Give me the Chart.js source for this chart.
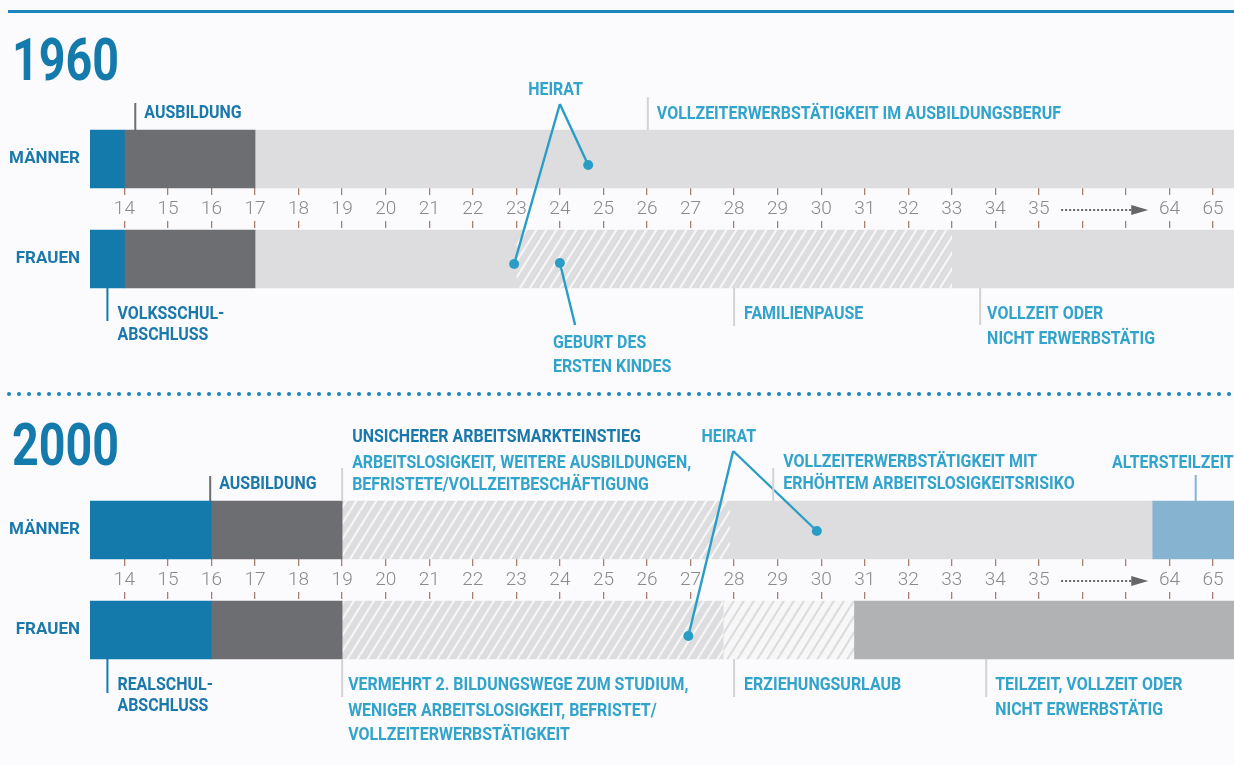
<!DOCTYPE html>
<html lang="de">
<head>
<meta charset="UTF-8">
<title>Lebensläufe 1960 und 2000</title>
<script src="https://cdn.jsdelivr.net/npm/chart.js"></script>
<style>
  html, body { margin: 0; padding: 0; background: #fbfbfd; }
  .panel { position: absolute; left: 0; width: 1234px; }
  #p1960 { top: 0; height: 383px; }
  #p2000 { top: 383px; height: 382px; }
</style>
</head>
<body>
<div class="panel" id="p1960"><canvas id="chart1960"></canvas></div>
<div class="panel" id="p2000"><canvas id="chart2000"></canvas></div>
<script>
// Zeitachse: Alter 14-35, danach Pfeil, 64 und 65 stehen auf Position 38 und 39
var agePositions = [14, 15, 16, 17, 18, 19, 20, 21, 22, 23, 24, 25, 26, 27, 28, 29, 30, 31, 32, 33, 34, 35, 36, 37, 38, 39];
var ageLabels = ['14', '15', '16', '17', '18', '19', '20', '21', '22', '23', '24', '25', '26', '27', '28', '29', '30', '31', '32', '33', '34', '35', '', '', '64', '65'];
var rowLabels = ['MÄNNER', '', 'FRAUEN'];
var axisMin = 13.21, axisMax = 39.48;

// Lebensphasen: Grenzen in Jahren und Phase je Abschnitt
var men1960Bounds = [13.2, 14, 17, 39.5];
var men1960Phases = ['schule', 'ausbildung', 'vollzeit'];
var women1960Bounds = [13.2, 14, 17, 23, 33, 39.5];
var women1960Phases = ['schule', 'ausbildung', 'vollzeit', 'familienpause', 'vollzeit'];

var men2000Bounds = [13.2, 16, 19, 27.9, 37.6, 39.5];
var men2000Phases = ['schule', 'ausbildung', 'einstieg', 'vollzeit', 'altersteilzeit'];
var women2000Bounds = [13.2, 16, 19, 27.75, 30.75, 39.5];
var women2000Phases = ['schule', 'ausbildung', 'einstieg', 'erziehungsurlaub', 'teilzeit'];

// Ereignisse (Alter): Heirat Männer / Frauen, Geburt des ersten Kindes
var heirat1960 = [24.65, 22.95];
var geburt1960 = [24.0];
var heirat2000 = [29.9, 26.95];

var BLUE = '#1479ab';
var TXT_DARK = '#1b78ab';
var TXT_LIGHT = '#32a3cb';
var LEADER = '#2a9dc5';
var LINE_GRAY = '#d3d3d5';
var TICK_FONT = "'Liberation Sans Narrow', Roboto, sans-serif";

function hatch(ctx, bg, fg) {
  var c = document.createElement('canvas');
  c.width = 10; c.height = 16;
  var g = c.getContext('2d');
  g.fillStyle = bg;
  g.fillRect(0, 0, 10, 16);
  g.strokeStyle = fg;
  g.lineWidth = 2.2;
  for (var k = -1; k <= 1; k++) {
    g.beginPath();
    g.moveTo(k * 10, 16);
    g.lineTo(k * 10 + 10, 0);
    g.stroke();
  }
  return ctx.createPattern(c, 'repeat');
}

function phaseColors(ctx) {
  return {
    schule: BLUE,
    ausbildung: '#6d6e71',
    vollzeit: '#dddddf',
    familienpause: hatch(ctx, '#dddddf', '#f6f6f7'),
    einstieg: hatch(ctx, '#dddddf', '#f6f6f7'),
    erziehungsurlaub: hatch(ctx, '#f7f7f8', '#dcdcde'),
    altersteilzeit: '#86b3cf',
    teilzeit: '#b1b2b4'
  };
}

function phaseDatasets(bounds, phases, rowIndex, colors) {
  var out = [];
  for (var i = 0; i < phases.length; i++) {
    var data = [null, null, null];
    data[rowIndex] = [bounds[i], bounds[i + 1]];
    out.push({
      type: 'bar',
      indexAxis: 'y',
      data: data,
      backgroundColor: colors[phases[i]],
      borderWidth: 0,
      barThickness: 58,
      grouped: false,
      clip: { left: 0, right: 0, top: 10, bottom: 10 },
      xAxisID: 'x',
      yAxisID: 'y'
    });
  }
  return out;
}

// Punkte fuer Heirat / Geburt, y auf einer unsichtbaren Zeilenskala
function eventDataset(points) {
  return {
    type: 'scatter',
    indexAxis: 'x',
    data: points,
    xAxisID: 'x',
    yAxisID: 'yDots',
    order: -1,
    clip: false,
    pointRadius: 5,
    pointHoverRadius: 5,
    pointBackgroundColor: LEADER,
    pointBorderWidth: 0
  };
}

function label(ctx, text, x, y, color, opts) {
  opts = opts || {};
  ctx.save();
  ctx.font = opts.font || 'bold 19px Roboto, sans-serif';
  ctx.fillStyle = color;
  ctx.textBaseline = 'alphabetic';
  ctx.textAlign = opts.align || 'left';
  ctx.translate(x, y);
  ctx.scale(opts.squeeze || 0.84, 1);
  ctx.fillText(text, 0, 0);
  ctx.restore();
}

function vline(ctx, x, y1, y2, color) {
  ctx.save();
  ctx.strokeStyle = color;
  ctx.lineWidth = 2;
  ctx.beginPath();
  ctx.moveTo(x, y1);
  ctx.lineTo(x, y2);
  ctx.stroke();
  ctx.restore();
}

function leader(ctx, x1, y1, x2, y2) {
  ctx.save();
  ctx.strokeStyle = LEADER;
  ctx.lineWidth = 2.4;
  ctx.beginPath();
  ctx.moveTo(x1, y1);
  ctx.lineTo(x2, y2);
  ctx.stroke();
  ctx.restore();
}

function arrow(ctx, X, y) {
  ctx.save();
  ctx.strokeStyle = '#666668';
  ctx.lineWidth = 2;
  ctx.setLineDash([2, 2]);
  ctx.beginPath();
  ctx.moveTo(X(35.51), y);
  ctx.lineTo(X(37.15), y);
  ctx.stroke();
  ctx.setLineDash([]);
  ctx.fillStyle = '#666668';
  ctx.beginPath();
  ctx.moveTo(X(37.12), y - 5);
  ctx.lineTo(X(37.51), y);
  ctx.lineTo(X(37.12), y + 5);
  ctx.closePath();
  ctx.fill();
  ctx.restore();
}

// Beschriftungen je Diagramm (nicht in den Optionen, sonst ruft Chart.js sie als scriptable Option auf)
var notesByCanvas = {};

var notesPlugin = {
  id: 'notes',
  afterDatasetsDraw: function (chart) {
    var ctx = chart.ctx;
    var xs = chart.scales.x, ys = chart.scales.y;
    var X = function (v) { return xs.getPixelForValue(v); };
    var mTop = ys.getPixelForValue(0) - 29;
    var fBot = ys.getPixelForValue(2) + 29;
    var mid = ys.getPixelForValue(1);
    var dots = chart.getDatasetMeta(chart.data.datasets.length - 1).data;
    arrow(ctx, X, mid + 1);
    notesByCanvas[chart.canvas.id](ctx, X, mTop, fBot, dots);
  }
};

function draw1960(ctx, X, mTop, fBot, dots) {
  ctx.fillStyle = '#1a86bd';
  ctx.fillRect(8, 10, 1226, 3);
  label(ctx, '1960', 12, 80, BLUE, { font: 'bold 59px Roboto, sans-serif', squeeze: 0.79 });

  vline(ctx, X(14.25), mTop - 27, mTop, '#6d6e71');
  label(ctx, 'AUSBILDUNG', X(14.25) + 9, mTop - 12, TXT_DARK);

  label(ctx, 'HEIRAT', X(23.9), mTop - 35, TXT_LIGHT, { align: 'center' });
  leader(ctx, X(24.0), mTop - 26, dots[0].x, dots[0].y);
  leader(ctx, X(24.0), mTop - 26, dots[1].x, dots[1].y);

  vline(ctx, X(26.02), mTop - 33, mTop, LINE_GRAY);
  label(ctx, 'VOLLZEITERWERBSTÄTIGKEIT IM AUSBILDUNGSBERUF', X(26.02) + 9, mTop - 11, TXT_LIGHT);

  vline(ctx, X(13.61), fBot, fBot + 33, BLUE);
  label(ctx, 'VOLKSSCHUL-', X(13.61) + 10, fBot + 31, TXT_DARK);
  label(ctx, 'ABSCHLUSS', X(13.61) + 10, fBot + 52, TXT_DARK);

  leader(ctx, dots[2].x, dots[2].y, X(24.35), fBot + 37);
  label(ctx, 'GEBURT DES', X(23.84), fBot + 60, TXT_LIGHT);
  label(ctx, 'ERSTEN KINDES', X(23.84), fBot + 84, TXT_LIGHT);

  vline(ctx, X(28.0), fBot, fBot + 38, LINE_GRAY);
  label(ctx, 'FAMILIENPAUSE', X(28.0) + 10, fBot + 31, TXT_LIGHT);

  vline(ctx, X(33.65), fBot, fBot + 37, LINE_GRAY);
  label(ctx, 'VOLLZEIT ODER', X(33.65) + 7, fBot + 31, TXT_LIGHT);
  label(ctx, 'NICHT ERWERBSTÄTIG', X(33.65) + 7, fBot + 56, TXT_LIGHT);
}

function draw2000(ctx, X, mTop, fBot, dots) {
  ctx.fillStyle = '#1a86bd';
  for (var x = 9; x < 1234; x += 10) {
    ctx.beginPath();
    ctx.arc(x, 11, 2, 0, Math.PI * 2);
    ctx.fill();
  }
  label(ctx, '2000', 12, 82, BLUE, { font: 'bold 59px Roboto, sans-serif', squeeze: 0.79 });

  vline(ctx, X(15.97), mTop - 25, mTop, '#6d6e71');
  label(ctx, 'AUSBILDUNG', X(15.97) + 9, mTop - 12, TXT_DARK);

  vline(ctx, X(19.0), mTop - 33, mTop, LINE_GRAY);
  label(ctx, 'UNSICHERER ARBEITSMARKTEINSTIEG', X(19.0) + 10, mTop - 59, TXT_DARK);
  label(ctx, 'ARBEITSLOSIGKEIT, WEITERE AUSBILDUNGEN,', X(19.0) + 10, mTop - 33, TXT_LIGHT);
  label(ctx, 'BEFRISTETE/VOLLZEITBESCHÄFTIGUNG', X(19.0) + 10, mTop - 11, TXT_LIGHT);

  label(ctx, 'HEIRAT', X(27.88), mTop - 59, TXT_LIGHT, { align: 'center' });
  leader(ctx, X(27.98), mTop - 50, dots[0].x, dots[0].y);
  leader(ctx, X(27.98), mTop - 50, dots[1].x, dots[1].y);

  vline(ctx, X(28.9), mTop - 33, mTop, LINE_GRAY);
  label(ctx, 'VOLLZEITERWERBSTÄTIGKEIT MIT', X(28.9) + 10, mTop - 34, TXT_LIGHT);
  label(ctx, 'ERHÖHTEM ARBEITSLOSIGKEITSRISIKO', X(28.9) + 10, mTop - 12, TXT_LIGHT);

  label(ctx, 'ALTERSTEILZEIT', X(36.68), mTop - 33, TXT_LIGHT);
  vline(ctx, X(38.6), mTop - 26, mTop, '#86b3cf');

  vline(ctx, X(13.61), fBot, fBot + 34, BLUE);
  label(ctx, 'REALSCHUL-', X(13.61) + 10, fBot + 31, TXT_DARK);
  label(ctx, 'ABSCHLUSS', X(13.61) + 10, fBot + 52, TXT_DARK);

  vline(ctx, X(19.0), fBot, fBot + 38, LINE_GRAY);
  label(ctx, 'VERMEHRT 2. BILDUNGSWEGE ZUM STUDIUM,', X(19.0) + 6, fBot + 31, TXT_LIGHT);
  label(ctx, 'WENIGER ARBEITSLOSIGKEIT, BEFRISTET/', X(19.0) + 6, fBot + 57, TXT_LIGHT);
  label(ctx, 'VOLLZEITERWERBSTÄTIGKEIT', X(19.0) + 6, fBot + 81, TXT_LIGHT);

  vline(ctx, X(28.0), fBot, fBot + 38, LINE_GRAY);
  label(ctx, 'ERZIEHUNGSURLAUB', X(28.0) + 10, fBot + 31, TXT_LIGHT);

  vline(ctx, X(33.79), fBot, fBot + 38, LINE_GRAY);
  label(ctx, 'TEILZEIT, VOLLZEIT ODER', X(33.79) + 9, fBot + 31, TXT_LIGHT);
  label(ctx, 'NICHT ERWERBSTÄTIG', X(33.79) + 9, fBot + 56, TXT_LIGHT);
}

function ageAxis(rowValue, showLabels) {
  return {
    type: 'linear',
    min: axisMin,
    max: axisMax,
    offset: false,
    position: { y: rowValue },
    afterBuildTicks: function (scale) {
      scale.ticks = agePositions.map(function (v) { return { value: v }; });
    },
    afterFit: function (scale) {
      scale.paddingLeft = 0;
      scale.paddingRight = 0;
    },
    ticks: {
      display: showLabels,
      autoSkip: false,
      maxRotation: 0,
      padding: 3,
      color: '#8a8a8c',
      font: { family: TICK_FONT, size: 19, weight: '300' },
      callback: function (value) {
        return ageLabels[agePositions.indexOf(value)];
      }
    },
    grid: { drawOnChartArea: false, drawTicks: true, tickLength: 7, color: '#a8806f', lineWidth: 1.3 },
    border: { display: false }
  };
}

function makeChart(id, men, women, events, padding, drawNotes) {
  var ctx = document.getElementById(id).getContext('2d');
  var colors = phaseColors(ctx);
  notesByCanvas[id] = drawNotes;
  var datasets = []
    .concat(phaseDatasets(men[0], men[1], 0, colors))
    .concat(phaseDatasets(women[0], women[1], 2, colors))
    .concat([eventDataset(events)]);

  return new Chart(ctx, {
    type: 'bar',
    data: { labels: rowLabels, datasets: datasets },
    options: {
      indexAxis: 'y',
      responsive: true,
      maintainAspectRatio: false,
      animation: false,
      layout: { padding: padding, autoPadding: false },
      plugins: {
        legend: { display: false },
        tooltip: { enabled: false }
      },
      scales: {
        x: ageAxis(0.58, true),
        x2: ageAxis(1.24, false),
        y: {
          type: 'category',
          labels: rowLabels,
          offset: true,
          position: 'left',
          afterFit: function (scale) { scale.width = 90; },
          ticks: { color: '#1b78ab', padding: 10, font: { family: 'Roboto, sans-serif', size: 17, weight: 'bold' } },
          grid: { display: false, drawTicks: false },
          border: { display: false }
        },
        yDots: { type: 'linear', min: -0.5, max: 2.5, reverse: true, offset: false, display: false }
      }
    },
    plugins: [notesPlugin]
  });
}

makeChart('chart1960',
  [men1960Bounds, men1960Phases],
  [women1960Bounds, women1960Phases],
  [{ x: heirat1960[0], y: 0.12 }, { x: heirat1960[1], y: 2.1 }, { x: geburt1960[0], y: 2.08 }],
  { top: 134, bottom: 99, left: 0, right: 0 },
  draw1960);

makeChart('chart2000',
  [men2000Bounds, men2000Phases],
  [women2000Bounds, women2000Phases],
  [{ x: heirat2000[0], y: 0.02 }, { x: heirat2000[1], y: 2.12 }],
  { top: 122, bottom: 110, left: 0, right: 0 },
  draw2000);
</script>
</body>
</html>
